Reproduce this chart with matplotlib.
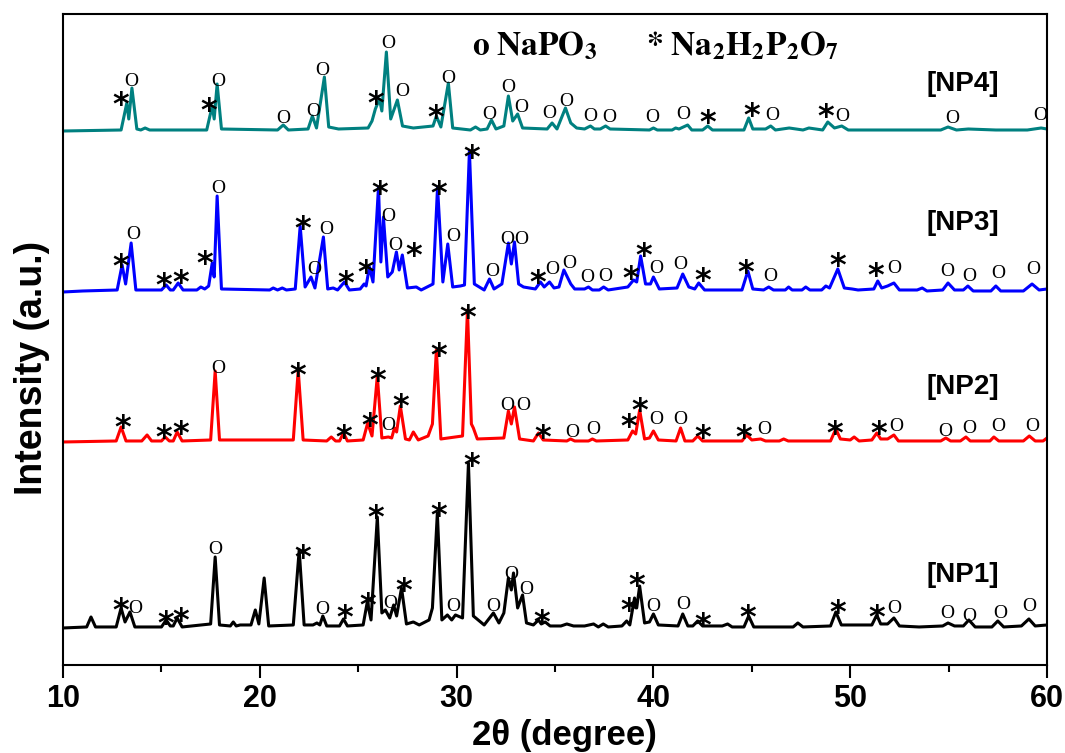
import numpy as np
import matplotlib
matplotlib.use("Agg")
import matplotlib.pyplot as plt

plt.rcParams['mathtext.fontset'] = 'stix'

# XRD traces, vertices (2theta, intensity above own baseline)
np1_x = [10.0, 11.2, 11.42, 11.65, 12.7, 12.95, 13.15, 13.4, 13.65, 15.0, 15.24, 15.45, 15.6, 15.8, 16.05,
         17.5, 17.73, 17.95, 18.5, 18.65, 18.8, 19.0, 19.1, 19.55, 19.77, 19.95, 20.22, 20.45, 21.7, 22.0,
         22.25, 22.7, 22.9, 23.05, 23.2, 23.4, 24.05, 24.25, 24.45, 25.25, 25.46, 25.65, 25.97, 26.2, 26.38,
         26.6, 26.8, 26.95, 27.2, 27.45, 27.8, 28.1, 28.6, 28.77, 29.02, 29.25, 29.53, 29.75, 29.94, 30.3,
         30.6, 30.85, 31.4, 31.87, 32.15, 32.4, 32.63, 32.78, 32.89, 33.1, 33.35, 33.55, 33.9, 34.16, 34.3,
         34.5, 34.75, 35.3, 35.6, 35.94, 36.5, 36.96, 37.2, 37.45, 37.7, 38.4, 38.64, 38.8, 39.04, 39.15,
         39.3, 39.55, 39.8, 40.0, 40.25, 41.25, 41.49, 41.75, 42.0, 42.25, 42.5, 43.5, 43.77, 44.0, 44.6,
         44.84, 45.1, 47.1, 47.34, 47.6, 49.0, 49.27, 49.55, 50.4, 51.1, 51.35, 51.55, 51.9, 52.22, 52.5,
         53.5, 54.7, 54.97, 55.3, 55.75, 56.03, 56.35, 57.2, 57.5, 57.8, 58.7, 59.08, 59.4, 60.0]
np1_y = [0, 1, 11, 1, 1, 20, 6, 16, 1, 1, 8, 2, 2, 10, 1,
         4, 71, 3, 2, 6, 2, 3, 3, 3, 18, 4, 50, 2, 3, 78,
         3, 3, 5, 3, 12, 2, 2, 9, 2, 3, 26, 8, 111, 15, 18,
         10, 23, 12, 40, 4, 6, 3, 8, 20, 115, 8, 13, 8, 13, 10,
         165, 12, 3, 15, 5, 15, 50, 38, 55, 20, 33, 5, 3, 8, 4,
         6, 2, 2, 4, 2, 2, 4, 1, 4, 1, 2, 7, 3, 30, 20,
         42, 5, 6, 14, 3, 2, 14, 2, 2, 7, 2, 2, 4, 1, 1,
         12, 1, 1, 5, 1, 2, 16, 3, 3, 3, 13, 4, 4, 10, 2,
         1, 2, 5, 2, 2, 8, 1, 1, 7, 1, 2, 9, 2, 3]

np2_x = [10.0, 12.7, 12.95, 13.2, 14.0, 14.27, 14.5, 15.0, 15.19, 15.4, 15.6, 15.8, 16.05, 17.5, 17.73,
         17.95, 21.7, 21.95, 22.2, 23.4, 23.63, 23.85, 24.05, 24.25, 24.45, 25.25, 25.48, 25.7, 25.97, 26.2,
         26.53, 26.7, 26.84, 26.95, 27.14, 27.4, 27.6, 27.8, 28.05, 28.55, 28.77, 28.97, 29.2, 30.3, 30.55,
         30.75, 30.85, 31.05, 32.4, 32.63, 32.78, 32.94, 33.2, 33.9, 34.16, 34.4, 35.6, 35.79, 36.0, 36.7,
         36.9, 37.1, 38.7, 38.94, 39.1, 39.3, 39.55, 39.8, 40.0, 40.25, 41.15, 41.38, 41.6, 42.0, 42.25,
         42.5, 44.5, 44.74, 45.0, 45.45, 45.7, 46.4, 46.62, 46.85, 49.0, 49.27, 49.5, 50.0, 50.2, 50.45,
         51.1, 51.35, 51.55, 51.9, 52.22, 52.45, 54.6, 54.86, 55.1, 55.6, 55.88, 56.1, 57.1, 57.3, 57.55,
         58.8, 59.1, 59.4, 59.8, 60.0]
np2_y = [0, 1, 15, 1, 1, 7, 1, 1, 5, 1, 1, 10, 1, 2, 71,
         2, 2, 72, 2, 1, 5, 1, 1, 9, 1, 2, 19, 6, 66, 4,
         5, 4, 14, 10, 36, 3, 2, 10, 2, 6, 18, 92, 3, 6, 132,
         18, 14, 3, 4, 31, 18, 35, 3, 1, 9, 2, 1, 3, 1, 1,
         3, 1, 2, 11, 8, 32, 3, 4, 11, 2, 1, 14, 1, 1, 6,
         1, 1, 7, 2, 3, 1, 1, 3, 1, 1, 13, 3, 2, 5, 1,
         2, 9, 3, 3, 7, 1, 1, 4, 1, 1, 5, 1, 1, 5, 1,
         1, 6, 1, 1, 4]

np3_x = [10.0, 11.0, 12.75, 13.0, 13.18, 13.46, 13.7, 15.0, 15.24, 15.45, 15.6, 15.85, 16.1, 16.8, 17.0,
         17.2, 17.4, 17.58, 17.68, 17.83, 18.05, 20.5, 20.68, 20.9, 21.14, 21.35, 21.8, 22.05, 22.3, 22.6,
         22.8, 23.23, 23.45, 23.73, 23.95, 24.3, 24.55, 25.1, 25.3, 25.4, 25.57, 25.75, 26.03, 26.15, 26.28,
         26.5, 26.73, 26.94, 27.08, 27.24, 27.5, 27.95, 28.2, 28.8, 29.03, 29.3, 29.55, 29.8, 30.19, 30.4,
         30.65, 30.9, 31.4, 31.67, 31.9, 32.3, 32.63, 32.78, 32.94, 33.15, 33.4, 34.0, 34.26, 34.45, 34.72,
         34.95, 35.2, 35.45, 35.8, 36.0, 36.5, 36.7, 36.9, 37.25, 37.47, 37.7, 38.7, 38.99, 39.15, 39.35,
         39.6, 39.85, 40.0, 40.3, 41.2, 41.49, 41.8, 42.1, 42.3, 42.6, 44.5, 44.8, 45.05, 45.6, 45.86,
         46.1, 46.7, 46.87, 47.05, 47.55, 47.74, 47.95, 48.55, 48.76, 48.95, 49.37, 49.7, 50.1, 50.4, 51.2,
         51.4, 51.6, 51.9, 52.22, 52.5, 53.4, 53.66, 53.9, 54.7, 54.97, 55.3, 55.75, 55.98, 56.25, 57.15,
         57.4, 57.65, 58.8, 59.24, 59.6, 60.0]
np3_y = [0, 1, 2, 27, 8, 49, 2, 2, 7, 2, 2, 9, 2, 2, 5,
         3, 6, 29, 15, 96, 3, 2, 4, 2, 4, 2, 3, 66, 5, 15,
         4, 55, 3, 4, 2, 10, 2, 3, 8, 6, 25, 10, 105, 30, 75,
         15, 20, 40, 22, 37, 4, 5, 2, 8, 105, 10, 48, 5, 6, 7,
         141, 8, 2, 13, 3, 8, 49, 28, 50, 8, 5, 3, 10, 5, 10,
         4, 5, 22, 8, 3, 3, 5, 2, 2, 5, 2, 5, 12, 10, 36,
         8, 8, 15, 3, 4, 18, 5, 3, 9, 2, 2, 21, 3, 2, 5,
         2, 2, 5, 2, 2, 5, 2, 2, 6, 4, 23, 4, 3, 2, 3,
         11, 4, 6, 9, 2, 2, 4, 1, 2, 9, 2, 2, 6, 1, 1,
         6, 1, 1, 8, 2, 3]

np4_x = [10.0, 12.95, 13.24, 13.34, 13.5, 13.75, 13.95, 14.17, 14.4, 17.3, 17.58, 17.68, 17.83, 18.05, 20.9,
         21.19, 21.45, 22.45, 22.67, 22.88, 23.28, 23.5, 24.0, 25.5, 25.7, 25.87, 26.08, 26.2, 26.43, 26.65,
         26.99, 27.25, 27.8, 28.8, 28.97, 29.2, 29.58, 29.8, 30.7, 30.96, 31.2, 31.55, 31.77, 32.0, 32.4,
         32.63, 32.85, 33.1, 33.35, 34.6, 34.85, 35.1, 35.53, 35.8, 36.1, 36.5, 36.8, 37.0, 37.3, 37.57,
         37.8, 39.8, 40.0, 40.2, 40.95, 41.13, 41.3, 41.74, 41.95, 42.5, 42.76, 43.0, 44.6, 44.84, 45.05,
         45.7, 45.96, 46.2, 46.9, 47.6, 47.9, 48.6, 48.86, 49.2, 49.57, 49.9, 54.6, 54.97, 55.4, 56.0,
         57.4, 59.0, 59.7, 60.0]
np4_y = [0, 1, 28, 12, 43, 2, 1, 3, 1, 1, 25, 12, 47, 2, 1,
         6, 1, 2, 15, 3, 54, 4, 2, 3, 10, 22, 32, 20, 79, 12,
         31, 5, 3, 5, 15, 4, 48, 3, 1, 4, 1, 2, 11, 2, 5,
         35, 10, 17, 3, 2, 8, 2, 23, 8, 3, 2, 5, 2, 2, 5,
         2, 1, 3, 1, 1, 3, 2, 6, 1, 1, 5, 1, 1, 13, 2,
         2, 5, 1, 3, 1, 3, 1, 9, 3, 5, 1, 1, 4, 1, 2,
         1, 1, 3, 2]

samples = ['[NP1]', '[NP2]', '[NP3]', '[NP4]']
offsets = [37, 223, 373, 534]
colors = ['black', '#ff0000', '#0000ff', '#008080']

# phase marks: (2theta, height on the plot, phase)  o = NaPO3, * = Na2H2P2O7
np1_marks = [(12.95, 65, '*'), (13.68, 58, 'o'), (15.24, 52, '*'), (16.0, 55, '*'), (17.73, 117, 'o'),
             (22.16, 118, '*'), (23.17, 57, 'o'), (24.29, 58, '*'), (25.46, 70, '*'), (25.87, 158, '*'),
             (26.62, 63, 'o'), (27.3, 85, '*'), (29.07, 160, '*'), (29.84, 60, 'o'), (30.75, 210, '*'),
             (31.87, 60, 'o'), (32.79, 92, 'o'), (33.55, 77, 'o'), (34.31, 53, '*'), (38.74, 65, '*'),
             (39.15, 90, '*'), (40.01, 60, 'o'), (41.54, 62, 'o'), (42.5, 50, '*'), (44.79, 58, '*'),
             (49.37, 63, '*'), (51.35, 58, '*'), (52.22, 58, 'o'), (54.91, 53, 'o'), (56.03, 50, 'o'),
             (57.61, 53, 'o'), (59.08, 60, 'o')]
np2_marks = [(13.05, 248, '*'), (15.14, 238, '*'), (16.0, 242, '*'), (17.88, 298, 'o'), (21.95, 300, '*'),
             (24.24, 238, '*'), (25.56, 250, '*'), (25.97, 295, '*'), (26.55, 241, 'o'), (27.15, 269, '*'),
             (29.07, 320, '*'), (30.55, 358, '*'), (32.58, 261, 'o'), (33.4, 261, 'o'), (34.36, 238, '*'),
             (35.89, 234, 'o'), (36.96, 237, 'o'), (38.74, 249, '*'), (39.3, 265, '*'), (40.16, 247, 'o'),
             (41.38, 247, 'o'), (42.5, 238, '*'), (44.59, 238, '*'), (45.61, 237, 'o'), (49.22, 242, '*'),
             (51.45, 242, '*'), (52.32, 240, 'o'), (54.81, 235, 'o'), (56.03, 238, 'o'), (57.51, 240, 'o'),
             (59.24, 240, 'o')]
np3_marks = [(12.95, 409, '*'), (13.56, 432, 'o'), (15.14, 390, '*'), (16.0, 393, '*'), (17.22, 412, '*'),
             (17.88, 478, 'o'), (22.16, 447, '*'), (22.77, 397, 'o'), (23.38, 437, 'o'), (24.34, 392, '*'),
             (25.36, 403, '*'), (26.07, 482, '*'), (26.53, 450, 'o'), (26.89, 421, 'o'), (27.8, 420, '*'),
             (29.07, 482, '*'), (29.84, 430, 'o'), (30.75, 518, '*'), (31.82, 395, 'o'), (32.58, 427, 'o'),
             (33.3, 427, 'o'), (34.11, 393, '*'), (34.87, 397, 'o'), (35.74, 403, 'o'), (36.65, 389, 'o'),
             (37.57, 390, 'o'), (38.84, 397, '*'), (39.5, 420, '*'), (40.16, 398, 'o'), (41.38, 402, 'o'),
             (42.5, 395, '*'), (44.69, 403, '*'), (45.96, 390, 'o'), (49.37, 410, '*'), (51.3, 400, '*'),
             (52.22, 398, 'o'), (54.91, 395, 'o'), (56.03, 390, 'o'), (57.51, 393, 'o'), (59.29, 397, 'o')]
np4_marks = [(12.95, 571, '*'), (13.46, 585, 'o'), (17.38, 565, '*'), (17.88, 585, 'o'), (21.19, 548, 'o'),
             (22.72, 555, 'o'), (23.17, 596, 'o'), (25.87, 572, '*'), (26.53, 623, 'o'), (27.24, 575, 'o'),
             (28.92, 558, '*'), (29.58, 588, 'o'), (31.67, 552, 'o'), (32.63, 579, 'o'), (33.3, 559, 'o'),
             (34.72, 553, 'o'), (35.59, 565, 'o'), (36.81, 550, 'o'), (37.77, 549, 'o'), (39.96, 549, 'o'),
             (41.54, 552, 'o'), (42.76, 553, '*'), (45.0, 560, '*'), (46.06, 551, 'o'), (48.76, 559, '*'),
             (49.62, 550, 'o'), (55.17, 548, 'o'), (59.64, 551, 'o')]

traces = [(np1_x, np1_y, np1_marks), (np2_x, np2_y, np2_marks),
          (np3_x, np3_y, np3_marks), (np4_x, np4_y, np4_marks)]
label_y = [90, 278, 442, 581]

fig = plt.figure(figsize=(10.65, 7.53), dpi=100)
ax = fig.add_axes([0.0592, 0.1169, 0.9239, 0.8645])

for (x, y, marks), off, c, name, ly in zip(traces, offsets, colors, samples, label_y):
    ax.plot(x, np.array(y) + off, color=c, lw=2.2)
    for mx, my, sym in marks:
        if sym == '*':
            ax.annotate('*', (mx, my), xytext=(0, -8), textcoords='offset points',
                        ha='center', va='center', fontsize=23, fontweight='bold',
                        family='DejaVu Sans')
        else:
            ax.annotate('O', (mx, my), xytext=(0, -1), textcoords='offset points',
                        ha='center', va='center', fontsize=14, family='Liberation Serif')
    ax.text(55.73, ly, name, ha='center', va='center', fontsize=20,
            fontweight='bold', family='Liberation Sans')

ax.text(30.8, 610, r'$\mathbf{o\ NaPO_3}$', fontsize=24, va='baseline')
ax.text(39.6, 610, r'$\mathbf{*\ Na_2H_2P_2O_7}$', fontsize=24, va='baseline')

ax.set_xlim(10, 60)
ax.set_ylim(0, 651)
ax.set_yticks([])
ax.set_xticks([10, 20, 30, 40, 50, 60])
ax.set_xticks([15, 25, 35, 45, 55], minor=True)
ax.tick_params(axis='x', which='major', direction='out', length=9, width=1.5, pad=5)
ax.tick_params(axis='x', which='minor', direction='out', length=5, width=1.5)
for s in ax.spines.values():
    s.set_linewidth(1.5)

for lab in ax.get_xticklabels():
    lab.set_family('Liberation Sans')
    lab.set_fontsize(22)
    lab.set_fontweight('bold')

ax.set_xlabel('2θ (degree)', family='Liberation Sans', fontsize=25, fontweight='bold')
ax.xaxis.set_label_coords(0.51, -0.083)
ax.set_ylabel('Intensity (a.u.)', family='Liberation Sans', fontsize=27, fontweight='bold')
ax.yaxis.set_label_coords(-0.013, 0.456)

fig.savefig('out.png', dpi=100)
